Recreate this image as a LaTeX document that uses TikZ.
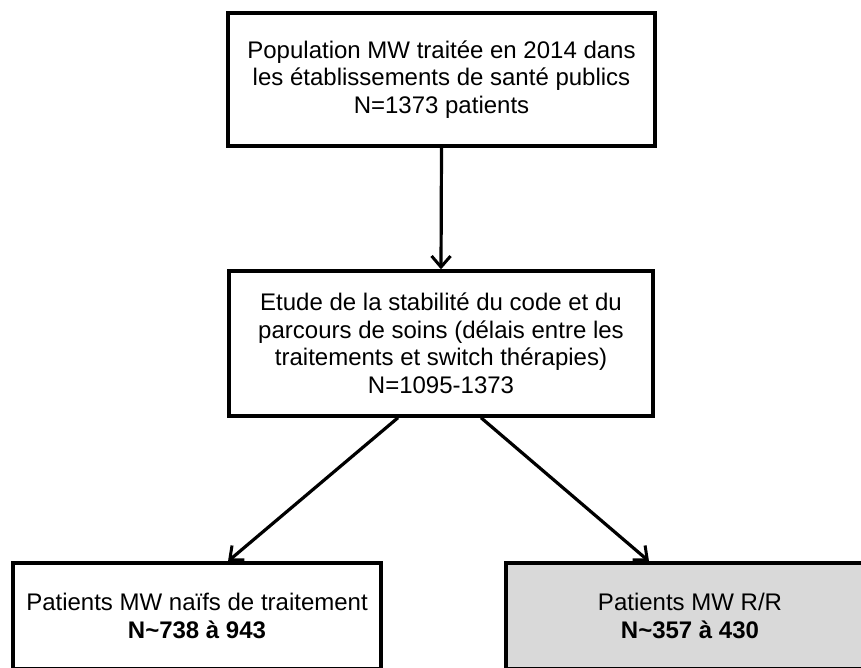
\documentclass[tikz,border=0pt]{standalone}
\usepackage{fontspec}
\setmainfont{Liberation Sans}
\usepackage{xcolor}
\usepackage{tikz}
\usetikzlibrary{arrows.meta}
\definecolor{rrgray}{HTML}{D9D9D9}
\tikzset{
  flowbox/.style={draw,line width=3.4pt,align=center,inner sep=0pt,
    font=\fontsize{24}{27.5}\selectfont},
  flowarrow/.style={line width=3.2pt,-{Straight Barb[length=11pt,width=19pt,line width=3pt]}}}
\begin{document}
\begin{tikzpicture}[x=1pt,y=-1pt]
  \useasboundingbox (0,0) rectangle (861,667);
  \clip (0,0) rectangle (861,667);
  % boxes
  \node[flowbox,minimum width=427pt,minimum height=133pt] (pop) at (441.5,79.5)
    {Population MW trait\'ee en 2014 dans\\les \'etablissements de sant\'e publics\\N=1373 patients};
  \node[flowbox,minimum width=424pt,minimum height=145pt] (etude) at (441,343.5)
    {Etude de la stabilit\'e du code et du\\parcours de soins (d\'elais entre les\\traitements et switch th\'erapies)\\N=1095-1373};
  \node[flowbox,minimum width=368pt,minimum height=106pt] (naifs) at (197,616)
    {Patients MW na\"ifs de traitement\\\textbf{N\textasciitilde738 \`a 943}};
  \node[flowbox,fill=rrgray,minimum width=368pt,minimum height=106pt] (rr) at (690,616)
    {Patients MW R/R\\\textbf{N\textasciitilde357 \`a 430}};
  % arrows
  \draw[flowarrow] (pop.south) -- (etude.north);
  \draw[flowarrow] ([xshift=-43pt]etude.south) -- ([xshift=31pt]naifs.north);
  \draw[flowarrow] ([xshift=40pt]etude.south) -- ([xshift=-41pt]rr.north);
\end{tikzpicture}
\end{document}
